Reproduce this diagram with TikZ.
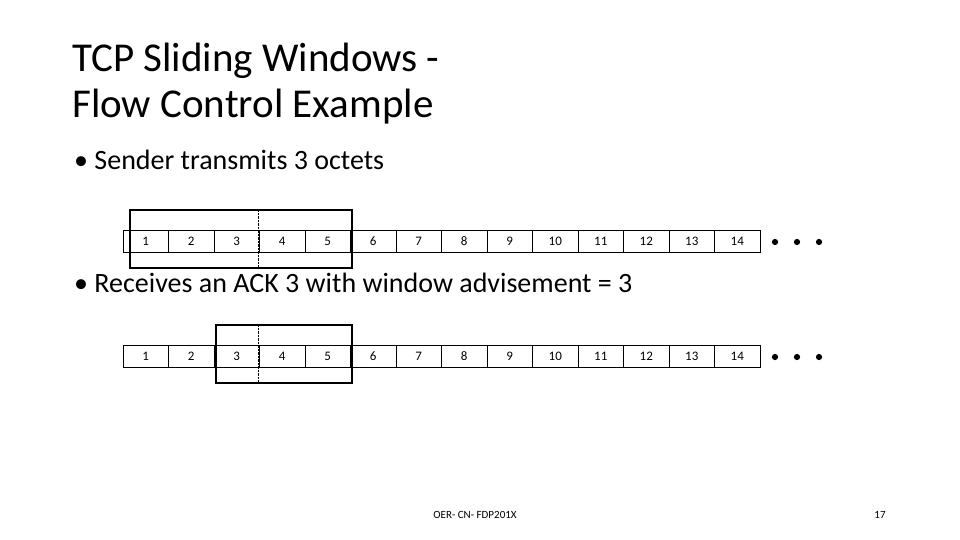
\documentclass[tikz,border=0pt]{standalone}
\usepackage{fontspec}
\setmainfont{Carlito}
\tikzset{cell/.style={draw,minimum width=45.5pt,minimum height=22pt,inner sep=0pt,text height=9pt,text depth=0pt,font=\fontsize{13}{13}\selectfont},
  win/.style={draw,line width=2.2pt},
  bigdot/.style={fill=black,circle,inner sep=2.2pt}}
\begin{document}
\begin{tikzpicture}[x=1pt,y=-1pt]
\useasboundingbox (0,0) rectangle (960,540);
\node[anchor=base west,inner sep=0pt,font=\fontsize{41}{41}\selectfont] (t1) at (72,72) {TCP Sliding Windows -};
\node[anchor=base west,inner sep=0pt,font=\fontsize{41}{41}\selectfont] (t2) at (72,118) {Flow Control Example};
\node[anchor=base west,inner sep=0pt,font=\fontsize{28}{28}\selectfont] (b1) at (74,170) {\textbullet\ Sender transmits 3 octets};
\node[anchor=base west,inner sep=0pt,font=\fontsize{28}{28}\selectfont] (b2) at (74,292) {\textbullet\ Receives an ACK 3 with window advisement = 3};
% first row
\foreach \i in {1,...,14}
  \node[cell] (a\i) at (100.25+45.5*\i,241) {\i};
\draw[win] (130,210) rectangle (352,268);
\draw[densely dotted] (258,210) -- (258,268);
\foreach \j in {0,1,2}
  \node[bigdot] (da\j) at (775+22*\j,242) {};
% second row
\foreach \i in {1,...,14}
  \node[cell] (b\i) at (100.25+45.5*\i,356) {\i};
\draw[win] (216,325) rectangle (352,383);
\draw[densely dotted] (258,325) -- (258,383);
\foreach \j in {0,1,2}
  \node[bigdot] (db\j) at (775+22*\j,357) {};
\node[font=\fontsize{11}{11}\selectfont] (foot) at (475,515) {OER- CN- FDP201X};
\node[font=\fontsize{11}{11}\selectfont] (pg) at (880,515) {17};
\end{tikzpicture}
\end{document}
